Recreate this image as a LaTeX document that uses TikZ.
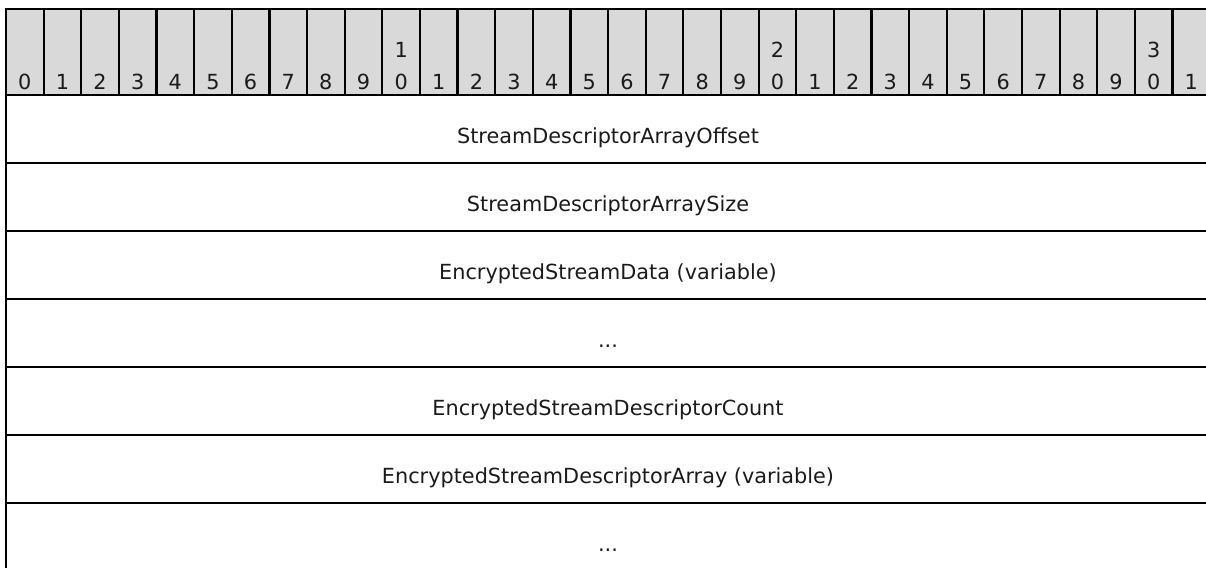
\documentclass[tikz,border=0pt]{standalone}
\usepackage{fontspec}
\setmainfont{DejaVu Sans}
\definecolor{hdrgray}{HTML}{D9D9D9}
\definecolor{txt}{HTML}{1A1A1A}
\tikzset{
  rule/.style={line width=2.2pt, black},
  bitlbl/.style={font=\fontsize{20.8}{30}\selectfont, text=txt, anchor=base, inner sep=0pt},
  fieldlbl/.style={font=\fontsize{20.8}{30}\selectfont, text=txt, anchor=base, inner sep=0pt}
}
\begin{document}
\begin{tikzpicture}[x=1pt,y=-1pt]
\useasboundingbox (0,0) rectangle (1206,567);
\clip (0,0) rectangle (1206,567);
\def\cw{37.63}
\def\rh{68.05}
% header fill
\fill[hdrgray] (6,9) rectangle (1212,95);
% header cell dividers
\foreach \k in {1,...,31} {
  \draw[rule] ({6+\k*\cw},9) -- ({6+\k*\cw},95);
}
% bit labels
\foreach \k in {0,...,31} {
  \pgfmathtruncatemacro{\d}{mod(\k,10)}
  \pgfmathtruncatemacro{\t}{div(\k,10)}
  \ifnum\d=0 \ifnum\k>0
    \node[bitlbl] (bt\k) at ({6+(\k+0.5)*\cw},57.5) {\t};
  \fi\fi
  \node[bitlbl] (b\k) at ({6+(\k+0.5)*\cw},89.5) {\d};
}
% outer lines
\draw[rule] (6,9) -- (1212,9);
\draw[rule] (6,8) -- (6,570);
\foreach \r in {0,...,6} {
  \draw[rule] (6,{95+\r*\rh}) -- (1212,{95+\r*\rh});
}
% field labels
\node[fieldlbl] (f1) at (608,{95+0*\rh+48.3}) {StreamDescriptorArrayOffset};
\node[fieldlbl] (f2) at (608,{95+1*\rh+48.3}) {StreamDescriptorArraySize};
\node[fieldlbl] (f3) at (608,{95+2*\rh+48.3}) {EncryptedStreamData (variable)};
\node[fieldlbl] (f4) at (608,{95+3*\rh+48.3}) {...};
\node[fieldlbl] (f5) at (608,{95+4*\rh+48.3}) {EncryptedStreamDescriptorCount};
\node[fieldlbl] (f6) at (608,{95+5*\rh+48.3}) {EncryptedStreamDescriptorArray (variable)};
\node[fieldlbl] (f7) at (608,{95+6*\rh+48.3}) {...};
\end{tikzpicture}
\end{document}
